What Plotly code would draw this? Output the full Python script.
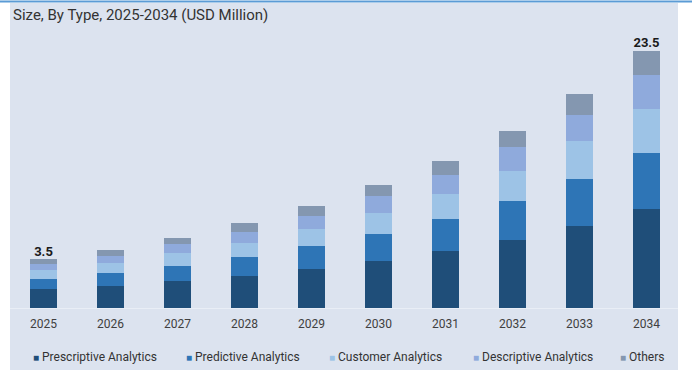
import plotly.graph_objects as go

years = ["2025", "2026", "2027", "2028", "2029", "2030", "2031", "2032", "2033", "2034"]
prescriptive = [1.71, 2.01, 2.44, 2.95, 3.59, 4.32, 5.18, 6.24, 7.52, 9.04]
predictive = [0.94, 1.19, 1.43, 1.67, 2.04, 2.40, 2.92, 3.50, 4.27, 5.09]
customer = [0.79, 0.94, 1.12, 1.34, 1.62, 1.98, 2.31, 2.80, 3.44, 4.05]
descriptive = [0.55, 0.61, 0.85, 0.98, 1.16, 1.53, 1.74, 2.13, 2.44, 3.11]
others = [0.46, 0.58, 0.52, 0.79, 0.91, 0.98, 1.31, 1.53, 1.89, 2.22]
total_labels = ["3.5", "", "", "", "", "", "", "", "", "23.5"]

series_names = ["Prescriptive Analytics", "Predictive Analytics", "Customer Analytics",
                "Descriptive Analytics", "Others"]
series_values = [prescriptive, predictive, customer, descriptive, others]
colors = ["#1f4e79", "#2e75b6", "#9dc3e6", "#8faadc", "#8497b0"]

W, H = 694, 370
ML, MR, MT, MB = 10, 14, 0, 62
PW, PH = W - ML - MR, H - MT - MB


def px(x):
    return (x - ML) / PW


def py(y):
    return (H - MB - y) / PH


fig = go.Figure()
for name, vals, c in zip(series_names, series_values, colors):
    fig.add_trace(go.Bar(x=years, y=vals, name=name, marker_color=c,
                         marker_line_width=0, showlegend=False))

totals = [sum(v) for v in zip(*series_values)]
fig.add_trace(go.Scatter(x=years, y=totals, mode="text", text=total_labels,
                         textposition="top center", showlegend=False,
                         textfont=dict(family="Roboto", size=13, color="#1a1a1a", weight="bold")))

shapes = [
    dict(type="rect", xref="paper", yref="paper", x0=px(10), x1=px(678), y0=py(370), y1=py(3),
         fillcolor="#dce3ef", line_width=0, layer="below"),
    dict(type="line", xref="paper", yref="paper", x0=px(0), x1=px(692), y0=py(1.5), y1=py(1.5),
         line=dict(color="#5b9bd5", width=2), layer="above"),
    dict(type="line", xref="paper", yref="paper", x0=px(10), x1=px(678), y0=py(308.5), y1=py(308.5),
         line=dict(color="#e9eef6", width=1), layer="below"),
]

annotations = [
    dict(text="Size, By Type, 2025-2034 (USD Million)", xref="paper", yref="paper",
         x=px(11), y=py(15), xanchor="left", yanchor="middle", showarrow=False,
         font=dict(family="Roboto", size=15, color="#333333")),
]
legend_x = [31, 184, 327, 471, 618]
for name, c, lx in zip(series_names, colors, legend_x):
    annotations.append(dict(
        text=f'<span style="color:{c};font-size:10px">■</span> {name}', xref="paper", yref="paper",
        x=px(lx), y=py(357), xanchor="left", yanchor="middle", showarrow=False,
        font=dict(family="Roboto", size=12, color="#333333")))

fig.update_layout(
    width=W, height=H,
    margin=dict(l=ML, r=MR, t=MT, b=MB),
    barmode="stack", bargap=0.6,
    paper_bgcolor="white", plot_bgcolor="rgba(0,0,0,0)",
    shapes=shapes, annotations=annotations,
    showlegend=False,
    xaxis=dict(showgrid=False, zeroline=False, showline=False,
               ticks="outside", ticklen=5, tickcolor="rgba(0,0,0,0)",
               tickfont=dict(family="Roboto", size=12, color="#404040")),
    yaxis=dict(visible=False, range=[0, 28.13]),
)

fig.write_html("out.html")
